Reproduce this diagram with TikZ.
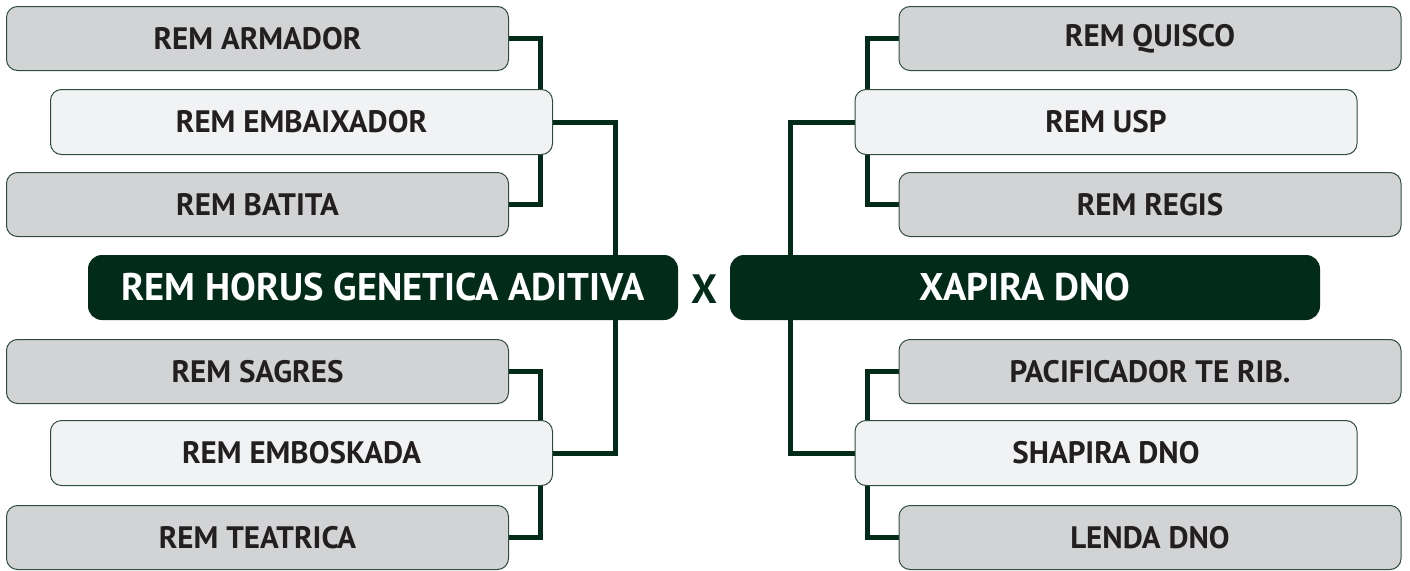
\documentclass[tikz,border=0pt]{standalone}
\usepackage{fontspec}
\setmainfont{PT Sans}
\usetikzlibrary{backgrounds}
\definecolor{dkgreen}{HTML}{032B1A}
\definecolor{boxgray}{HTML}{D1D3D4}
\definecolor{boxlight}{HTML}{F1F2F3}
\definecolor{boxedge}{HTML}{2E4D3C}
\definecolor{txtdark}{HTML}{231F20}
\tikzset{
  entry/.style={draw=boxedge, line width=1pt, rounded corners=11pt, minimum width=502pt,
    text=txtdark, font=\fontsize{31}{33}\selectfont\bfseries, inner sep=0pt},
  graybox/.style={entry, fill=boxgray, minimum height=64pt},
  lightbox/.style={entry, fill=boxlight, minimum height=65pt},
  finalist/.style={fill=dkgreen, rounded corners=14pt, minimum height=65pt, text=white,
    font=\fontsize{38.5}{40}\selectfont\bfseries, inner sep=0pt},
  link/.style={draw=dkgreen, line width=5pt, line join=miter}
}
\begin{document}
\begin{tikzpicture}[x=1pt,y=-1pt]
\useasboundingbox (0,0) rectangle (1410,570);
% left side
\node[graybox]  (armador)    at (257.5,38.5)  {REM ARMADOR};
\node[lightbox] (embaixador) at (301.5,122)   {REM EMBAIXADOR};
\node[graybox]  (batita)     at (257.5,204.5) {REM BATITA};
\node[graybox]  (sagres)     at (257.5,371.5) {REM SAGRES};
\node[lightbox] (emboskada)  at (301.5,453)   {REM EMBOSKADA};
\node[graybox]  (teatrica)   at (257.5,537.5) {REM TEATRICA};
% right side
\node[graybox]  (quisco)      at (1150,38.5)  {REM QUISCO};
\node[lightbox] (usp)         at (1106,122)   {REM USP};
\node[graybox]  (regis)       at (1150,204.5) {REM REGIS};
\node[graybox]  (pacificador) at (1150,371.5) {PACIFICADOR TE RIB.};
\node[lightbox] (shapira)     at (1106,453)   {SHAPIRA DNO};
\node[graybox]  (lenda)       at (1150,537.5) {LENDA DNO};
% finalists
\node[finalist, minimum width=590pt] (horus)  at (383,287.5)  {REM HORUS GENETICA ADITIVA};
\node[finalist, minimum width=590pt] (xapira) at (1025,287.5) {XAPIRA DNO};
\node[text=dkgreen, font=\fontsize{41}{43}\selectfont\bfseries, inner sep=0pt] (vs) at (704.5,289) {X};
\begin{scope}[on background layer]
\draw[link] (armador.east) -- ++(31,0) |- (batita.east);
\draw[link] (sagres.east) -- ++(31,0) |- (teatrica.east);
\draw[link] (embaixador.east) -- ++(62,0) |- (emboskada.east);
\draw[link] (quisco.west) -- ++(-31,0) |- (regis.west);
\draw[link] (pacificador.west) -- ++(-31,0) |- (lenda.west);
\draw[link] (usp.west) -- ++(-64,0) |- (shapira.west);
\end{scope}
\end{tikzpicture}
\end{document}
